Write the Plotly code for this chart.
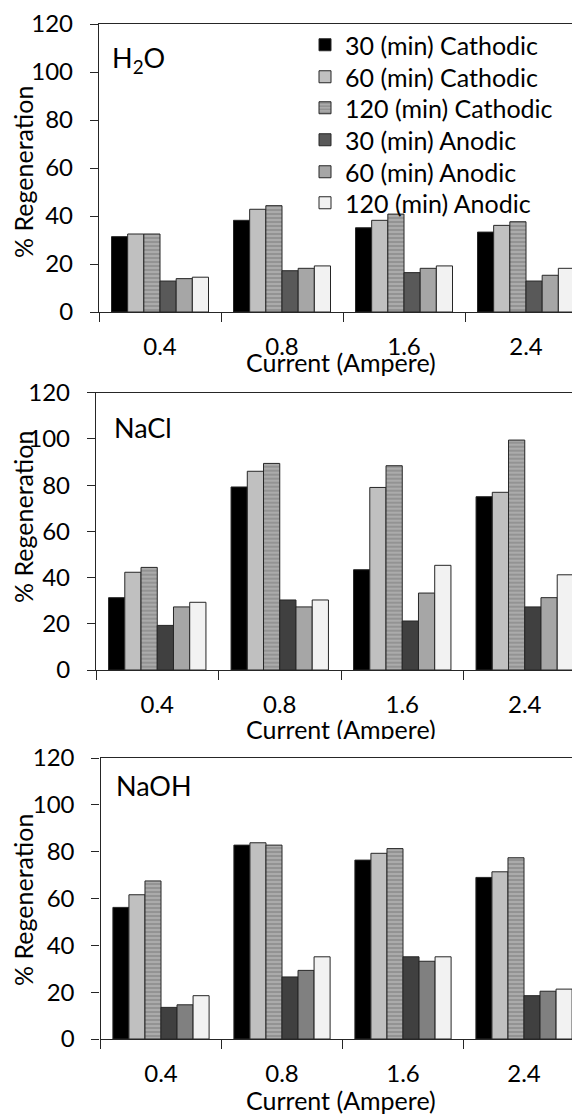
import plotly.graph_objects as go

# ---------------- data ----------------
currents = ["0.4", "0.8", "1.6", "2.4"]
series_names = ["30 (min) Cathodic", "60 (min) Cathodic", "120 (min) Cathodic",
                "30 (min) Anodic", "60 (min) Anodic", "120 (min) Anodic"]
panel_labels = ["H<sub>2</sub>O", "NaCl", "NaOH"]
y_ticks = [0, 20, 40, 60, 80, 100, 120]

h2o_cath30 = [31.4, 38.2, 35.1, 33.3]
h2o_cath60 = [32.5, 42.8, 38.2, 36.1]
h2o_cath120 = [32.5, 44.3, 40.8, 37.6]
h2o_an30 = [12.9, 17.2, 16.4, 12.9]
h2o_an60 = [13.9, 18.2, 18.2, 15.3]
h2o_an120 = [14.5, 19.2, 19.2, 18.2]

nacl_cath30 = [31.3, 79.2, 43.4, 75.0]
nacl_cath60 = [42.3, 86.0, 79.0, 76.9]
nacl_cath120 = [44.4, 89.4, 88.4, 99.5]
nacl_an30 = [19.3, 30.3, 21.2, 27.3]
nacl_an60 = [27.3, 27.3, 33.3, 31.3]
nacl_an120 = [29.3, 30.3, 45.3, 41.2]

naoh_cath30 = [56.2, 82.8, 76.4, 69.0]
naoh_cath60 = [61.6, 83.8, 79.3, 71.4]
naoh_cath120 = [67.5, 82.8, 81.3, 77.4]
naoh_an30 = [13.5, 26.5, 35.1, 18.5]
naoh_an60 = [14.6, 29.3, 33.2, 20.4]
naoh_an120 = [18.5, 35.1, 35.1, 21.3]

panels = [
    [h2o_cath30, h2o_cath60, h2o_cath120, h2o_an30, h2o_an60, h2o_an120],
    [nacl_cath30, nacl_cath60, nacl_cath120, nacl_an30, nacl_an60, nacl_an120],
    [naoh_cath30, naoh_cath60, naoh_cath120, naoh_an30, naoh_an60, naoh_an120],
]

# ---------------- styling / layout ----------------
PAGE_W, PAGE_H = 580, 1115
OFF = 8  # default page body margin
W, H = PAGE_W - OFF, PAGE_H - OFF
FONT = "Lato, 'Open Sans', sans-serif"
FS = 24
FS_T = 25
LINE = "#262626"

panel_colors = [
    ["#000000", "#c0c0c0", "HATCH", "#595959", "#a6a6a6", "#f2f2f2"],
    ["#000000", "#c0c0c0", "HATCH", "#404040", "#a6a6a6", "#f2f2f2"],
    ["#000000", "#c0c0c0", "HATCH", "#404040", "#808080", "#f2f2f2"],
]

# pixel geometry per panel (page px): (axis x, category width, top px, bottom px)
geom = [(99, 122, 24, 312), (96, 122.5, 392.7, 670), (100.5, 121, 758, 1039)]
label_pos = [(110, 60), (112, 427), (114, 785)]
xtitle_y = [362, 728, 1100]
ytitle_y = [172, 517, 900]
legend_rows = [45, 77, 108, 140, 172, 203]


def fx(p):
    return (p - OFF) / W


def fy(p):
    return 1 - (p - OFF) / H


fig = go.Figure()
annotations = []
layout = {}

for i, (vals, cols) in enumerate(zip(panels, panel_colors)):
    n = "" if i == 0 else str(i + 1)
    xa, ya = "x" + n, "y" + n
    for j, (name, v, c) in enumerate(zip(series_names, vals, cols)):
        if c == "HATCH":
            marker = dict(color="#9c9c9c",
                          pattern=dict(shape="-", fgcolor="#666666", bgcolor="#ababab",
                                       size=4, solidity=0.35),
                          line=dict(color=LINE, width=1))
        else:
            marker = dict(color=c, line=dict(color=LINE, width=1))
        fig.add_trace(go.Bar(x=currents, y=v, name=name, marker=marker,
                             xaxis=xa, yaxis=ya, showlegend=(i == 0),
                             legend="legend" if j == 0 else "legend" + str(j + 1)))

    x0, w, top, bot = geom[i]
    xend = -0.5 + (PAGE_W - x0) / w
    layout["xaxis" + n] = dict(
        domain=[fx(x0), 1], anchor=ya, type="category", range=[-0.5, xend],
        tickson="boundaries", ticks="outside", ticklen=9, tickcolor=LINE, tickwidth=1.3,
        showline=True, linecolor=LINE, linewidth=1.3, mirror=True, automargin=False,
        showgrid=False, tickfont=dict(family=FONT, size=FS, color="#000"),
        ticklabelstandoff=13, fixedrange=True)
    layout["yaxis" + n] = dict(
        domain=[fy(bot), fy(top)], anchor=xa, range=[0, 120], tickvals=y_ticks,
        ticks="outside", ticklen=8, tickcolor=LINE, tickwidth=1.3, automargin=False,
        showline=True, linecolor=LINE, linewidth=1.3, showgrid=False, zeroline=False,
        tickfont=dict(family=FONT, size=FS, color="#000"), ticklabelstandoff=12)
    # inside tick marks every 10 (overlay axis)
    k = str(i + 4)
    layout["yaxis" + k] = dict(
        overlaying=ya, anchor=xa, range=[0, 120], tickmode="linear", tick0=0, dtick=10,
        ticks="inside", ticklen=7, tickcolor=LINE, tickwidth=1.3, automargin=False,
        showticklabels=False, showline=False, showgrid=False, zeroline=False)

    lx, ly = label_pos[i]
    annotations.append(dict(text=panel_labels[i], x=fx(lx), y=fy(ly), xref="paper", yref="paper",
                            xanchor="left", yanchor="middle", showarrow=False,
                            font=dict(family=FONT, size=27, color="#000")))
    xt = dict(text="Current (Ampere)", x=fx(341), y=fy(xtitle_y[i]),
              xref="paper", yref="paper", xanchor="center", yanchor="middle",
              showarrow=False, font=dict(family=FONT, size=FS_T, color="#000"))
    if i == 1:
        # title is cut off at its bottom in the reference
        xt.update(y=fy(xtitle_y[i] - 16), yanchor="top", valign="top", height=25)
    annotations.append(xt)
    annotations.append(dict(text="% Regeneration", x=fx(23), y=fy(ytitle_y[i]),
                            xref="paper", yref="paper", xanchor="center", yanchor="middle",
                            textangle=-90, showarrow=False,
                            font=dict(family=FONT, size=FS_T, color="#000")))

for j, ry in enumerate(legend_rows):
    key = "legend" if j == 0 else "legend" + str(j + 1)
    layout[key] = dict(x=fx(305), y=fy(ry), xanchor="left", yanchor="middle",
                       bgcolor="rgba(0,0,0,0)", borderwidth=0,
                       font=dict(family=FONT, size=FS_T, color="#000"))

fig.update_layout(
    width=W, height=H, autosize=False,
    margin=dict(l=0, r=0, t=0, b=0, autoexpand=False),
    paper_bgcolor="white", plot_bgcolor="white",
    barmode="group", bargap=0.205, bargroupgap=0,
    font=dict(family=FONT, size=FS, color="#000"),
    annotations=annotations,
    **layout,
)

fig.write_html("out.html")
